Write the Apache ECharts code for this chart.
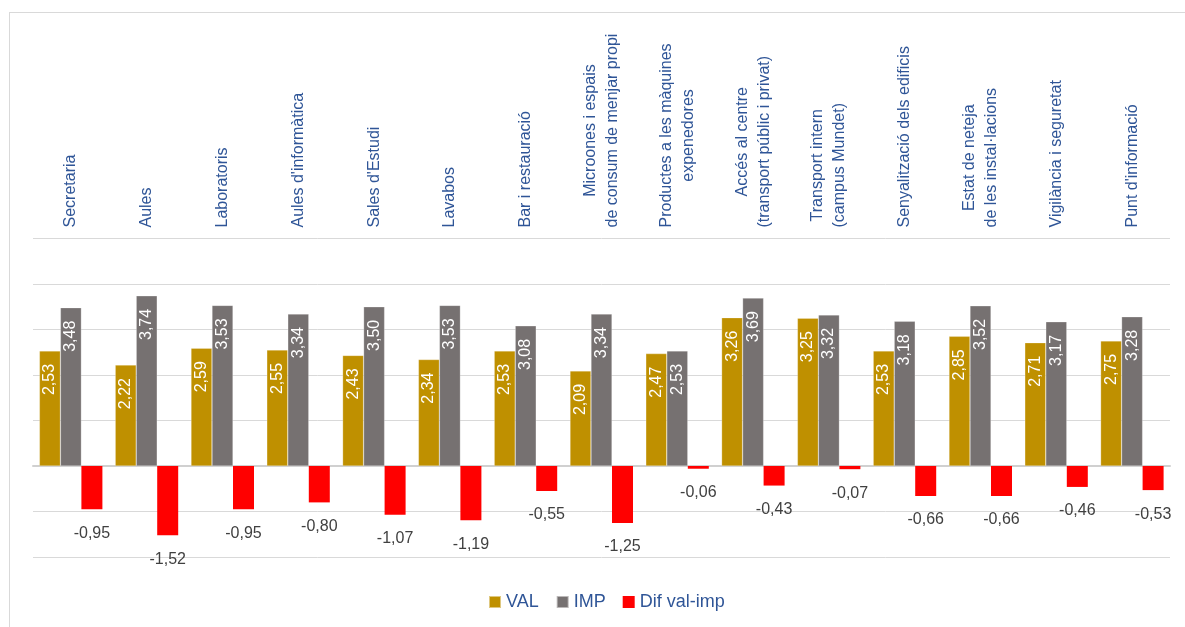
<!DOCTYPE html>
<html>
<head>
<meta charset="utf-8">
<script src="https://cdn.jsdelivr.net/npm/echarts@6/dist/echarts.min.js"></script>
<style>
  html, body { margin: 0; padding: 0; background: #fff; overflow: hidden; }
  #wrap { position: relative; width: 1185px; height: 627px; overflow: hidden; }
  #chart { position: absolute; left: 0; top: 0; width: 1185px; height: 627px; }
  #frame { position: absolute; left: 9px; top: 12px; width: 1300px; height: 800px; border: 1px solid #d9d9d9; pointer-events: none; }
</style>
</head>
<body>
<div id="wrap">
  <div id="frame"></div>
  <div id="chart"></div>
</div>
<script>
const categories = [
  "Secretaria",
  "Aules",
  "Laboratoris",
  "Aules d'informàtica",
  "Sales d'Estudi",
  "Lavabos",
  "Bar i restauració",
  "Microones i espais\nde consum de menjar propi",
  "Productes a les màquines\nexpenedores",
  "Accés al centre\n(transport públic i privat)",
  "Transport intern\n(campus Mundet)",
  "Senyalització dels edificis",
  "Estat de neteja\nde les instal·lacions",
  "Vigilància i seguretat",
  "Punt d'informació"
];
const seriesNames = ["VAL", "IMP", "Dif val-imp"];
const valValues = [2.53, 2.22, 2.59, 2.55, 2.43, 2.34, 2.53, 2.09, 2.47, 3.26, 3.25, 2.53, 2.85, 2.71, 2.75];
const impValues = [3.48, 3.74, 3.53, 3.34, 3.50, 3.53, 3.08, 3.34, 2.53, 3.69, 3.32, 3.18, 3.52, 3.17, 3.28];
const difValues = [-0.95, -1.52, -0.95, -0.80, -1.07, -1.19, -0.55, -1.25, -0.06, -0.43, -0.07, -0.66, -0.66, -0.46, -0.53];

const FONT = "'Liberation Sans', Arial, sans-serif";
const BLUE = "#2F5597";
const fmt = v => v.toFixed(2).replace('.', ',');

const chart = echarts.init(document.getElementById('chart'), null, { renderer: 'canvas' });

const innerLabel = {
  show: true,
  position: 'insideTop',
  rotate: 90,
  align: 'right',
  verticalAlign: 'middle',
  distance: 13,
  color: '#ffffff',
  fontSize: 16,
  fontFamily: FONT,
  formatter: p => fmt(p.value)
};

chart.setOption({
  animation: false,
  backgroundColor: 'transparent',
  textStyle: { fontFamily: FONT },
  grid: { left: 33, right: 15, top: 238.5, bottom: 70, containLabel: false },
  legend: {
    data: seriesNames,
    left: 488,
    top: 593,
    padding: 0,
    icon: 'rect',
    itemWidth: 12,
    itemHeight: 12,
    itemGap: 17,
    textStyle: { color: BLUE, fontSize: 18, fontFamily: FONT }
  },
  xAxis: [
    {
      type: 'category',
      data: categories,
      position: 'top',
      axisLine: { show: false, onZero: false },
      axisTick: { show: false },
      splitLine: { show: false },
      axisLabel: {
        interval: 0,
        rotate: -90,
        margin: 11,
        formatter: v => v.split('\n').map(s => '{c|' + s + '}').join('\n'),
        rich: {
          c: { align: 'center', color: BLUE, fontSize: 16, lineHeight: 22, fontFamily: FONT }
        }
      }
    },
    {
      type: 'category',
      data: categories,
      position: 'bottom',
      axisLine: { show: true, onZero: true, lineStyle: { color: '#d0d0d0', width: 2 } },
      axisTick: { show: false },
      axisLabel: { show: false },
      splitLine: { show: false }
    }
  ],
  yAxis: {
    type: 'value',
    min: -2,
    max: 5,
    interval: 1,
    axisLine: { show: false },
    axisTick: { show: false },
    axisLabel: { show: false },
    splitLine: { show: true, lineStyle: { color: '#d9d9d9', width: 1 } }
  },
  series: [
    {
      name: seriesNames[0],
      type: 'bar',
      xAxisIndex: 0,
      data: valValues,
      barWidth: 21,
      barGap: '0%',
      itemStyle: { color: '#BF9000', borderColor: 'rgba(255,255,255,0.5)', borderWidth: 0.5 },
      label: innerLabel
    },
    {
      name: seriesNames[1],
      type: 'bar',
      xAxisIndex: 0,
      data: impValues,
      barWidth: 21,
      barGap: '0%',
      itemStyle: { color: '#767171', borderColor: 'rgba(255,255,255,0.5)', borderWidth: 0.5 },
      label: innerLabel
    },
    {
      name: seriesNames[2],
      type: 'bar',
      xAxisIndex: 0,
      data: difValues,
      barWidth: 21,
      barGap: '0%',
      itemStyle: { color: '#FF0000' },
      label: {
        show: true,
        position: 'bottom',
        distance: 16,
        color: '#404040',
        fontSize: 16,
        fontFamily: FONT,
        formatter: p => fmt(p.value)
      }
    }
  ]
});
</script>
</body>
</html>
